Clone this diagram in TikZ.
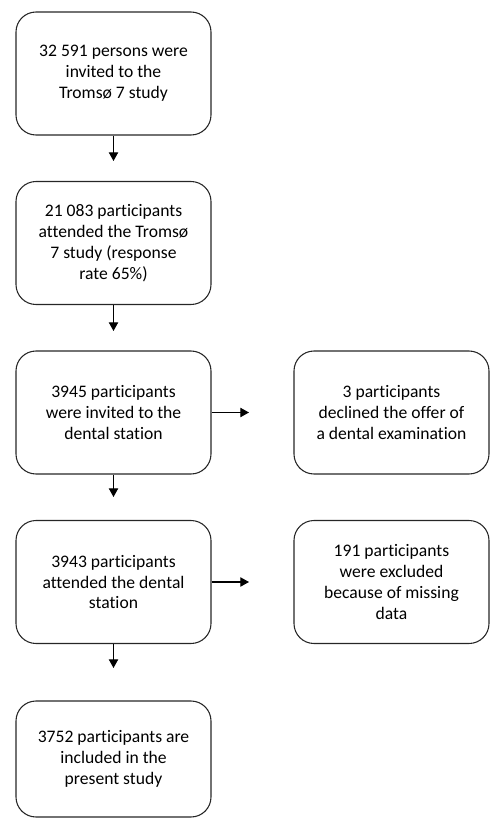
\documentclass[tikz,border=0pt]{standalone}
\usepackage{fontspec}
\setmainfont{Carlito}[Ligatures=NoCommon]
\usetikzlibrary{arrows.meta}
\begin{document}
\begin{tikzpicture}[x=0.75pt,y=-0.75pt,
  box/.style={draw=black!85,line width=0.8pt,rounded corners=15pt,
    minimum width=146.25pt,minimum height=92.25pt,inner sep=0pt,
    align=center,font=\fontsize{13.2pt}{15.75pt}\selectfont},
  arr/.style={line width=0.8pt,-{Triangle[length=6.5pt,width=7pt]}}]
\useasboundingbox (0,0) rectangle (496,819);
\node[box] (b1) at (113.5,73.5) {32 591 persons were\\invited to the\\Tromsø 7 study};
\node[box] (b2) at (113.5,243) {21 083 participants\\attended the Tromsø\\7 study (response\\rate 65\%)};
\node[box] (b3) at (113.5,412.5) {3945 participants\\were invited to the\\dental station};
\node[box] (b4) at (113.5,582) {3943 participants\\attended the dental\\station};
\node[box,minimum height=87pt] (b5) at (113.5,759) {3752 participants are\\included in the\\present study};
\node[box] (r1) at (391.5,412.5) {3 participants\\declined the offer of\\a dental examination};
\node[box] (r2) at (391.5,582) {191 participants\\were excluded\\because of missing\\data};
\coordinate (t1) at (113.5,161);
\coordinate (t2) at (113.5,331);
\coordinate (t3) at (113.5,497);
\coordinate (t4) at (113.5,668);
\coordinate (h1) at (249,412.5);
\coordinate (h2) at (249,582);
\draw[arr] (b1.south) -- (t1);
\draw[arr] (b2.south) -- (t2);
\draw[arr] (b3.south) -- (t3);
\draw[arr] (b4.south) -- (t4);
\draw[arr] (b3.east) -- (h1);
\draw[arr] (b4.east) -- (h2);
\end{tikzpicture}
\end{document}
